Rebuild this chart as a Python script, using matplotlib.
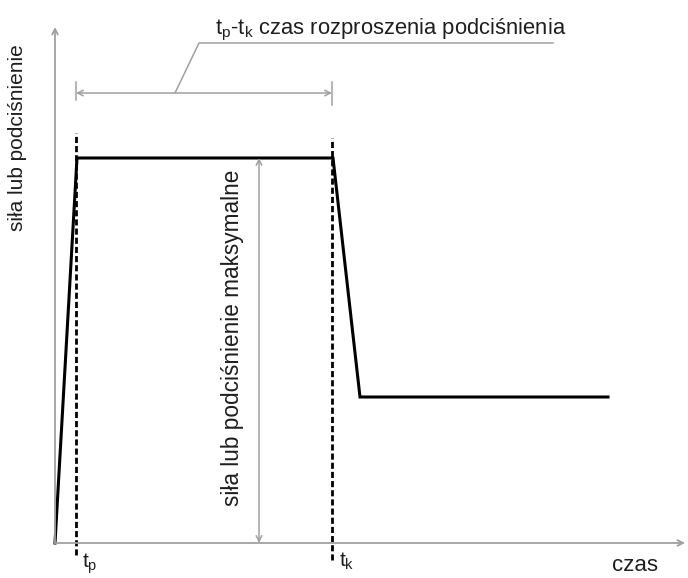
import matplotlib
matplotlib.use("Agg")
import matplotlib.pyplot as plt

plt.rcParams['font.family'] = ['Liberation Sans', 'DejaVu Sans']
plt.rcParams['mathtext.default'] = 'regular'

# przebieg sily w czasie (jednostki umowne)
czas = [0, 22, 278, 305, 553]
sila = [0, 385, 385, 146, 146]

t_p = 21
t_k = 277
sila_max = 385

tytul = r"t$_p$-t$_k$ czas rozproszenia podciśnienia"
opis_y = "siła lub podciśnienie"
opis_x = "czas"
opis_max = "siła lub podciśnienie maksymalne"

szary = "#a0a0a0"
tekst = "#1e1e1e"

fig = plt.figure(figsize=(6.88, 5.78), dpi=100)
ax = fig.add_axes([55/688, 35/578, 630/688, 516/578])
ax.set_xlim(0, 630)
ax.set_ylim(0, 516)
ax.axis("off")

# osie
ax.annotate("", xy=(630, 0), xytext=(0, 0),
            arrowprops=dict(arrowstyle="->", color=szary, lw=1.3, shrinkA=0, shrinkB=0),
            annotation_clip=False)
ax.annotate("", xy=(0, 516), xytext=(0, 0),
            arrowprops=dict(arrowstyle="->", color=szary, lw=1.3, shrinkA=0, shrinkB=0),
            annotation_clip=False)

# przebieg
ax.plot(czas, sila, color="black", lw=2.2, solid_joinstyle="miter", clip_on=False)

# linie przerywane t_p i t_k
ax.plot([t_p, t_p], [-12, 410], color="black", lw=2, dashes=(2.2, 1.1), clip_on=False)
ax.plot([t_k, t_k], [-17, 405], color="black", lw=2, dashes=(2.2, 1.1), clip_on=False)

# wymiar t_p - t_k
ax.annotate("", xy=(t_k, 450), xytext=(t_p, 450),
            arrowprops=dict(arrowstyle="<->", color=szary, lw=1.1, shrinkA=0, shrinkB=0))
ax.plot([t_p, t_p], [443, 461], color=szary, lw=1.1)
ax.plot([t_k, t_k], [438, 461], color=szary, lw=1.1)
ax.plot([120, 144, 498], [450, 500, 500], color=szary, lw=1.1, clip_on=False)
ax.text(160, 509, tytul, fontsize=15.8, ha="left", va="baseline", color=tekst)

# wymiar sily maksymalnej
ax.annotate("", xy=(204, sila_max), xytext=(204, 0),
            arrowprops=dict(arrowstyle="<->", color=szary, lw=1.1, shrinkA=0, shrinkB=0))
ax.text(178, 205, opis_max, fontsize=16.3, rotation=90, ha="center", va="center", color=tekst)

# opisy
ax.text(-37, 405, opis_y, fontsize=15, rotation=90, ha="center", va="center",
        color=tekst, clip_on=False)
ax.text(580, -28, opis_x, fontsize=16, ha="center", va="baseline", color=tekst, clip_on=False)
ax.text(27, -21, r"t$_p$", fontsize=15, ha="left", va="center", color=tekst, clip_on=False)
ax.text(284, -18, r"t$_k$", fontsize=15, ha="left", va="center", color=tekst, clip_on=False)

fig.savefig("out.png", dpi=100)
